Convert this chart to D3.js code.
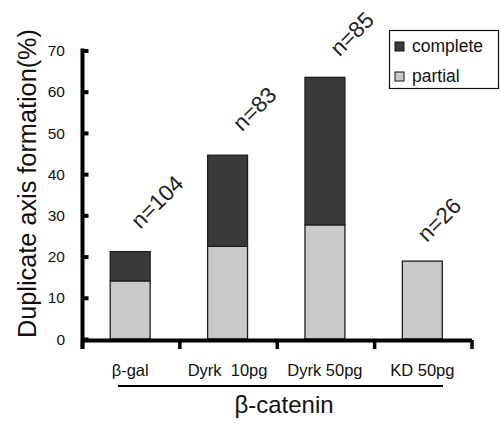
<!DOCTYPE html>
<html><head><meta charset="utf-8">
<script src="https://cdn.jsdelivr.net/npm/d3@7"></script>
<style>
html,body{margin:0;padding:0;background:#fff;}
svg{display:block;font-family:"Liberation Sans",Arial,sans-serif;}
</style></head>
<body>
<svg id="chart" width="501" height="430"></svg>
<script>
// ---- data ----
const categories = ["β-gal", "Dyrk  10pg", "Dyrk 50pg", "KD 50pg"];
const partial = [14.1, 22.5, 27.7, 18.9];
const complete = [7.1, 22.1, 35.8, 0];
const nLabels = ["n=104", "n=83", "n=85", "n=26"];
const yTicks = [0, 10, 20, 30, 40, 50, 60, 70];
const seriesNames = ["complete", "partial"];
const groupLabel = "β-catenin";
const yTitle = "Duplicate axis formation(%)";

// ---- layout ----
const svg = d3.select("#chart");
const colors = {complete: "#3b3b3b", partial: "#c9c9c9"};
const x = d3.scaleBand().domain(categories).range([82.5, 472]).paddingInner(0.59).paddingOuter(0.295);
const y = d3.scaleLinear().domain([0, 70]).range([339, 50.5]);

const rows = categories.map((c, i) => ({cat: c, partial: partial[i], complete: complete[i]}));
const stack = d3.stack().keys(["partial", "complete"])(rows);

// bars
svg.append("g").selectAll("g").data(stack).join("g")
  .attr("fill", d => colors[d.key])
  .selectAll("rect").data(d => d.filter(s => s[1] - s[0] > 0)).join("rect")
  .attr("x", d => x(d.data.cat) - 1)
  .attr("width", x.bandwidth())
  .attr("y", d => y(d[1]))
  .attr("height", d => y(d[0]) - y(d[1]))
  .attr("stroke", "#1e1e1e").attr("stroke-width", 1.3);

// y axis
const yAxis = d3.axisRight(y).tickValues(yTicks).tickSize(6).tickFormat("");
const yg = svg.append("g").attr("transform", "translate(82.5,0)").call(yAxis);
yg.select(".domain").remove();
yg.selectAll(".tick line").attr("stroke", "#000").attr("stroke-width", 4);
svg.append("line").attr("x1", 82.5).attr("x2", 82.5).attr("y1", y(70) - 2).attr("y2", 349)
  .attr("stroke", "#000").attr("stroke-width", 4);
svg.append("g").selectAll("text").data(yTicks).join("text")
  .attr("x", 65).attr("y", d => y(d)).attr("dy", "0.36em")
  .attr("text-anchor", "end").attr("font-size", 15.5).attr("fill", "#111")
  .text(d => d);

// x axis
const x0 = x.range()[0], step = x.step();
svg.append("line").attr("x1", x0).attr("x2", x.range()[1]).attr("y1", 340.5).attr("y2", 340.5)
  .attr("stroke", "#000").attr("stroke-width", 4);
svg.append("g").selectAll("line").data(d3.range(categories.length + 1)).join("line")
  .attr("x1", i => x0 + i * step).attr("x2", i => x0 + i * step)
  .attr("y1", 340).attr("y2", 349).attr("stroke", "#000").attr("stroke-width", 3.5);
svg.append("g").selectAll("text").data(categories).join("text")
  .attr("x", d => x(d) + x.bandwidth() / 2 - 1).attr("y", 376)
  .attr("text-anchor", "middle").attr("font-size", 16.5).attr("fill", "#111")
  .style("white-space", "pre").attr("xml:space", "preserve")
  .text(d => d);

// group underline + label
svg.append("line").attr("x1", 118).attr("x2", 443).attr("y1", 386).attr("y2", 386)
  .attr("stroke", "#000").attr("stroke-width", 2);
svg.append("text").attr("x", 284).attr("y", 413).attr("text-anchor", "middle")
  .attr("font-size", 24).attr("fill", "#111").text(groupLabel);

// y title
svg.append("text").attr("transform", "translate(36,183.5) rotate(-90)")
  .attr("text-anchor", "middle").attr("font-size", 26).attr("fill", "#111")
  .attr("textLength", 309).attr("lengthAdjust", "spacingAndGlyphs")
  .text(yTitle);

// n labels
const nudge = [[10, -22], [14.5, -23], [14.5, -20], [4.5, -18]];
svg.append("g").selectAll("text").data(nLabels).join("text")
  .attr("transform", (d, i) => {
    const cx = x(categories[i]) + x.bandwidth() / 2 - 1 + nudge[i][0];
    const cy = y(partial[i] + complete[i]) + nudge[i][1];
    return `translate(${cx},${cy}) rotate(-45)`;
  })
  .attr("font-size", 22.5).attr("fill", "#222").text(d => d);

// legend
const lg = svg.append("g");
lg.append("rect").attr("x", 389.5).attr("y", 30.5).attr("width", 109).attr("height", 58)
  .attr("fill", "#fff").attr("stroke", "#111").attr("stroke-width", 1.2);
const li = lg.selectAll("g.it").data(seriesNames).join("g").attr("class", "it")
  .attr("transform", (d, i) => `translate(395,${42 + i * 30})`);
li.append("rect").attr("width", 9).attr("height", 9)
  .attr("fill", d => colors[d]).attr("stroke", "#111").attr("stroke-width", 1);
li.append("text").attr("x", 17).attr("y", 10).attr("font-size", 17.5).attr("fill", "#111")
  .text(d => d);
</script>
</body></html>
